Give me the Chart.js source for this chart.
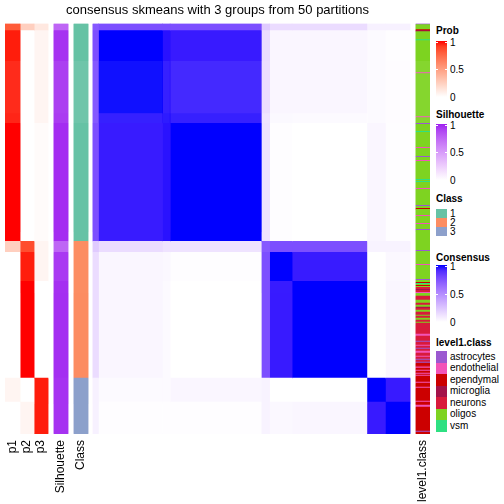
<!DOCTYPE html>
<html lang="en">
<head>
<meta charset="UTF-8">
<title>consensus skmeans with 3 groups from 50 partitions</title>
<style>
    * { margin: 0; padding: 0; box-sizing: border-box; }
    body {
        width: 504px;
        height: 504px;
        background: #fff;
        position: relative;
        overflow: hidden;
        font-family: "Liberation Sans", Arial, sans-serif;
        color: #000;
    }
    .chart-box { position: absolute; left: 0; top: 0; width: 435px; height: 504px; }
    .lg-title { position: absolute; left: 436px; font-weight: bold; font-size: 10px; line-height: 12px; white-space: nowrap; }
    .lg-text { position: absolute; left: 450px; font-size: 10px; line-height: 12px; white-space: nowrap; }
    .grad, .swatch { position: absolute; left: 436px; width: 11px; }
    .tick { position: absolute; width: 2px; height: 1px; background: #fff; }
</style>
<script src="https://cdn.jsdelivr.net/npm/chart.js"></script>
</head>
<body>
<div class="chart-box"><canvas id="consensusChart"></canvas></div>
<div id="legend"></div>

<script>
// ---- data ----
const chartTitle = 'consensus skmeans with 3 groups from 50 partitions';

// sub-clusters in the row / column order of the heatmap
const blockNames = ['1e', '1a', '1t', '1b', '2e', '2c', '2d', '3e', '3f'];
const blockSizes = [7, 83, 10, 118, 11, 29, 97, 24, 32];
const blockClass = [1, 1, 1, 1, 2, 2, 2, 3, 3];

// mean consensus between sub-clusters (symmetric)
const consensus = [
    [0.72, 0.76, 0.76, 0.76, 0.22, 0.15, 0.15, 0.06, 0.06],
    [0.76, 1.00, 0.97, 0.95, 0.15, 0.04, 0.04, 0.02, 0.01],
    [0.76, 0.97, 0.98, 0.97, 0.12, 0.03, 0.02, 0.02, 0.01],
    [0.76, 0.95, 0.97, 1.00, 0.12, 0.01, 0.00, 0.04, 0.01],
    [0.22, 0.15, 0.12, 0.12, 0.72, 0.76, 0.76, 0.05, 0.05],
    [0.15, 0.04, 0.03, 0.01, 0.76, 1.00, 0.95, 0.00, 0.03],
    [0.15, 0.04, 0.02, 0.00, 0.76, 0.95, 1.00, 0.00, 0.04],
    [0.06, 0.02, 0.02, 0.04, 0.05, 0.00, 0.00, 1.00, 0.95],
    [0.06, 0.01, 0.01, 0.01, 0.05, 0.03, 0.04, 0.95, 1.00]
];

const probP1 = [0.80, 0.97, 0.98, 1.00, 0.25, 0.00, 0.00, 0.05, 0.00];
const probP2 = [0.25, 0.00, 0.00, 0.00, 0.85, 0.97, 1.00, 0.00, 0.05];
const probP3 = [0.12, 0.05, 0.05, 0.02, 0.05, 0.05, 0.00, 0.97, 0.97];
const silhouette = [0.75, 0.95, 0.96, 0.97, 0.75, 0.93, 0.96, 0.95, 0.95];

const classNames = ['1', '2', '3'];
const classColors = ['#66C2A5', '#FC8D62', '#8DA0CB'];

const level1Names = ['astrocytes', 'endothelial', 'ependymal', 'microglia', 'neurons', 'oligos', 'vsm'];
const level1Colors = ['#9B59D0', '#F254B8', '#CC0000', '#A3134A', '#D81B3C', '#7ED321', '#2EE082'];

// level1.class along the rows, as [class, run length]
const level1Runs = [
    ['astrocytes', 1], ['oligos', 5], ['ependymal', 1], ['microglia', 1], ['oligos', 8], ['vsm', 1],
    ['oligos', 32], ['endothelial', 1], ['oligos', 43], ['endothelial', 1], ['oligos', 6], ['astrocytes', 1],
    ['oligos', 7], ['vsm', 1], ['oligos', 15], ['endothelial', 1], ['oligos', 8], ['astrocytes', 1],
    ['oligos', 3], ['endothelial', 1], ['oligos', 18], ['vsm', 1], ['oligos', 1], ['vsm', 1],
    ['oligos', 6], ['endothelial', 1], ['oligos', 16], ['astrocytes', 1], ['oligos', 2], ['ependymal', 1],
    ['oligos', 6], ['endothelial', 1], ['oligos', 7], ['endothelial', 1], ['oligos', 5], ['astrocytes', 1],
    ['oligos', 20], ['astrocytes', 1], ['oligos', 13], ['endothelial', 1], ['oligos', 14], ['astrocytes', 1],
    ['oligos', 2], ['ependymal', 1], ['vsm', 1], ['oligos', 1], ['ependymal', 1], ['oligos', 1],
    ['neurons', 2], ['microglia', 1], ['neurons', 2], ['endothelial', 1], ['oligos', 3], ['neurons', 4],
    ['oligos', 3], ['neurons', 2], ['oligos', 2], ['microglia', 1], ['neurons', 2], ['oligos', 2],
    ['neurons', 3], ['oligos', 1], ['neurons', 2], ['oligos', 2], ['neurons', 2], ['oligos', 1],
    ['neurons', 11], ['endothelial', 2], ['neurons', 5], ['astrocytes', 1], ['neurons', 3], ['endothelial', 1],
    ['neurons', 2], ['astrocytes', 1], ['neurons', 2], ['endothelial', 2], ['neurons', 3], ['endothelial', 1],
    ['neurons', 2], ['astrocytes', 1], ['neurons', 2], ['astrocytes', 1], ['ependymal', 3], ['neurons', 1],
    ['endothelial', 1], ['ependymal', 2], ['endothelial', 1], ['ependymal', 2], ['endothelial', 1], ['ependymal', 1],
    ['endothelial', 1], ['ependymal', 6], ['endothelial', 1], ['ependymal', 4], ['endothelial', 1], ['ependymal', 13],
    ['endothelial', 1], ['ependymal', 3], ['endothelial', 2], ['ependymal', 24], ['astrocytes', 1], ['ependymal', 2]
];

// ---- colour ramps (interpolated in LAB, like circlize) ----
function toLin(c) { c /= 255; return c <= 0.04045 ? c / 12.92 : Math.pow((c + 0.055) / 1.055, 2.4); }
function toSrgb(c) {
    c = c <= 0.0031308 ? 12.92 * c : 1.055 * Math.pow(c, 1 / 2.4) - 0.055;
    return Math.round(Math.max(0, Math.min(1, c)) * 255);
}
function hexToLab(hex) {
    const n = parseInt(hex.slice(1), 16);
    const r = toLin(n >> 16 & 255), g = toLin(n >> 8 & 255), b = toLin(n & 255);
    const X = (0.4124 * r + 0.3576 * g + 0.1805 * b) / 0.95047;
    const Y = 0.2126 * r + 0.7152 * g + 0.0722 * b;
    const Z = (0.0193 * r + 0.1192 * g + 0.9505 * b) / 1.08883;
    const f = t => t > 0.008856 ? Math.cbrt(t) : 7.787 * t + 16 / 116;
    return [116 * f(Y) - 16, 500 * (f(X) - f(Y)), 200 * (f(Y) - f(Z))];
}
function labToCss(L, a, b) {
    const fy = (L + 16) / 116, fx = fy + a / 500, fz = fy - b / 200;
    const inv = t => t * t * t > 0.008856 ? t * t * t : (t - 16 / 116) / 7.787;
    const X = 0.95047 * inv(fx), Y = inv(fy), Z = 1.08883 * inv(fz);
    const r = 3.2406 * X - 1.5372 * Y - 0.4986 * Z;
    const g = -0.9689 * X + 1.8758 * Y + 0.0415 * Z;
    const bl = 0.0557 * X - 0.2040 * Y + 1.0570 * Z;
    return `rgb(${toSrgb(r)},${toSrgb(g)},${toSrgb(bl)})`;
}
function ramp(from, to) {
    const a = hexToLab(from), b = hexToLab(to);
    return v => {
        v = Math.max(0, Math.min(1, v));
        return labToCss(a[0] + (b[0] - a[0]) * v, a[1] + (b[1] - a[1]) * v, a[2] + (b[2] - a[2]) * v);
    };
}
const consColor = ramp('#FFFFFF', '#0000FF');
const probColor = ramp('#FFFFFF', '#FF0000');
const silColor = ramp('#FFFFFF', '#A020F0');

// ---- rows ----
const rowBlock = [];
const blockStart = [];
blockSizes.forEach((n, b) => {
    blockStart.push(rowBlock.length);
    for (let i = 0; i < n; i++) rowBlock.push(b);
});
const nSamples = rowBlock.length;
const rowLabels = rowBlock.map((_, i) => 'sample' + (i + 1));

const level1Rows = [];
level1Runs.forEach(([name, n]) => { for (let i = 0; i < n; i++) level1Rows.push(name); });

// ---- layout: annotation tracks, in pixels from the heatmap's left edge ----
const heatmapPx = 317;
const unit = nSamples / heatmapPx;
const trackNames = ['p1', 'p2', 'p3', 'Silhouette', 'Class', 'level1.class'];
const trackPx = [[-88, -73], [-73, -59], [-59, -45], [-39, -25], [-19, -5], [323, 337]];
const trackColors = [
    rowBlock.map(b => probColor(probP1[b])),
    rowBlock.map(b => probColor(probP2[b])),
    rowBlock.map(b => probColor(probP3[b])),
    rowBlock.map(b => silColor(silhouette[b])),
    rowBlock.map(b => classColors[blockClass[b] - 1]),
    rowBlock.map((_, i) => level1Colors[level1Names.indexOf(level1Rows[i] || 'ependymal')])
];

const datasets = [];
blockNames.forEach((name, c) => {
    datasets.push({
        label: 'consensus ' + name,
        data: rowBlock.map(() => [blockStart[c], blockStart[c] + blockSizes[c]]),
        backgroundColor: rowBlock.map(r => consColor(consensus[r][c]))
    });
});
trackNames.forEach((name, t) => {
    datasets.push({
        label: name,
        data: rowBlock.map(() => [trackPx[t][0] * unit, trackPx[t][1] * unit]),
        backgroundColor: trackColors[t]
    });
});
datasets.forEach(d => {
    d.grouped = false;
    d.barPercentage = 1;
    d.categoryPercentage = 1;
    d.borderWidth = 0;
});

Chart.defaults.font.family = '"Liberation Sans", Arial, sans-serif';
Chart.defaults.color = '#000';

new Chart(document.getElementById('consensusChart'), {
    type: 'bar',
    data: { labels: rowLabels, datasets: datasets },
    options: {
        indexAxis: 'y',
        responsive: true,
        maintainAspectRatio: false,
        animation: false,
        events: [],
        layout: { padding: { left: 5, right: 5, top: 0, bottom: 0 } },
        plugins: {
            legend: { display: false },
            tooltip: { enabled: false },
            title: {
                display: true,
                text: chartTitle,
                font: { size: 13, weight: 'normal' },
                color: '#000',
                padding: { top: 3, bottom: 5 }
            }
        },
        scales: {
            x: {
                type: 'linear',
                min: trackPx[0][0] * unit,
                max: trackPx[5][1] * unit,
                grid: { display: false, drawTicks: false },
                border: { display: false },
                ticks: {
                    autoSkip: false,
                    minRotation: 90,
                    maxRotation: 90,
                    padding: 6,
                    font: { size: 12 },
                    callback: (v, i) => trackNames[i]
                },
                afterBuildTicks: scale => {
                    scale.ticks = trackPx.map(p => ({ value: (p[0] + p[1]) / 2 * unit }));
                },
                afterFit: scale => {
                    scale.height = 70;
                    scale.paddingLeft = 0;
                    scale.paddingRight = 0;
                }
            },
            y: { type: 'category', display: false, grid: { display: false } }
        }
    }
});

// ---- legends on the right ----
const legend = document.getElementById('legend');
function add(cls, top, text, style) {
    const el = document.createElement('div');
    el.className = cls;
    el.style.top = top + 'px';
    if (text) el.textContent = text;
    if (style) Object.assign(el.style, style);
    legend.appendChild(el);
    return el;
}
function gradientLegend(title, titleY, top, bottom, colorFn) {
    add('lg-title', titleY - 6, title);
    const stops = [];
    for (let i = 0; i <= 10; i++) stops.push(colorFn(1 - i / 10) + ' ' + (i * 10) + '%');
    add('grad', top, '', { height: (bottom - top) + 'px', background: 'linear-gradient(' + stops.join(',') + ')' });
    const mid = (top + bottom) / 2;
    [[top + 1, '1'], [mid, '0.5'], [bottom, '0']].forEach(([y, t]) => add('lg-text', y - 5, t));
    [top + 1, mid].forEach(y => {
        add('tick', y, '', { left: '436px' });
        add('tick', y, '', { left: '445px' });
    });
}
gradientLegend('Prob', 31, 41, 97, probColor);
gradientLegend('Silhouette', 115, 124, 180, silColor);

add('lg-title', 193, 'Class');
classNames.forEach((name, i) => {
    add('swatch', 209 + i * 9, '', { height: '9px', background: classColors[i] });
    add('lg-text', 208 + i * 9, name);
});

gradientLegend('Consensus', 258, 265, 322, consColor);

add('lg-title', 337, 'level1.class');
level1Names.forEach((name, i) => {
    add('swatch', 351 + i * 11.5, '', { height: '11.5px', background: level1Colors[i] });
    add('lg-text', 350.5 + i * 11.5, name);
});
</script>
</body>
</html>
